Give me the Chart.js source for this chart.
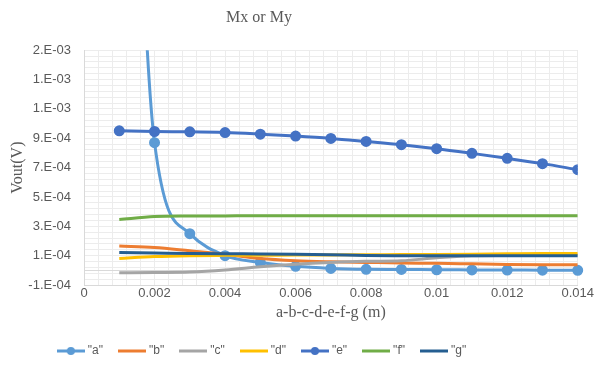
<!DOCTYPE html>
<html>
<head>
<meta charset="utf-8">
<script src="https://cdn.jsdelivr.net/npm/chart.js@4/dist/chart.umd.min.js"></script>
<style>
  html, body { margin: 0; padding: 0; background: #fff; }
</style>
</head>
<body>
<canvas id="c" width="595" height="365"></canvas>
<script>
// ── data ──
const xs = [0.001, 0.002, 0.003, 0.004, 0.005, 0.006, 0.007, 0.008, 0.009, 0.010, 0.011, 0.012, 0.013, 0.014];
const seriesA = [6.0e-3, 8.7e-4, 2.5e-4, 1.0e-4, 5.4e-5, 2.7e-5, 1.3e-5, 7e-6, 6e-6, 4e-6, 3e-6, 2e-6, 1e-6, 0];
const seriesB = [1.66e-4, 1.55e-4, 1.33e-4, 1.1e-4, 8.0e-5, 6.5e-5, 5.8e-5, 5.4e-5, 5.0e-5, 4.8e-5, 4.4e-5, 4.0e-5, 3.8e-5, 3.8e-5];
const seriesC = [-1.6e-5, -1.5e-5, -1.2e-5, 2e-6, 2.4e-5, 4.2e-5, 5.4e-5, 6.1e-5, 6.5e-5, 8.5e-5, 1.0e-4, 1.02e-4, 1.04e-4, 1.05e-4];
const seriesD = [8.1e-5, 9.4e-5, 1.0e-4, 1.02e-4, 1.03e-4, 1.04e-4, 1.05e-4, 1.06e-4, 1.07e-4, 1.08e-4, 1.1e-4, 1.13e-4, 1.15e-4, 1.15e-4];
const seriesE = [9.51e-4, 9.46e-4, 9.44e-4, 9.39e-4, 9.28e-4, 9.15e-4, 8.99e-4, 8.78e-4, 8.56e-4, 8.29e-4, 7.97e-4, 7.63e-4, 7.27e-4, 6.86e-4];
const seriesF = [3.47e-4, 3.66e-4, 3.70e-4, 3.71e-4, 3.72e-4, 3.72e-4, 3.72e-4, 3.72e-4, 3.72e-4, 3.72e-4, 3.72e-4, 3.72e-4, 3.72e-4, 3.72e-4];
const seriesG = [1.21e-4, 1.18e-4, 1.15e-4, 1.13e-4, 1.12e-4, 1.1e-4, 1.06e-4, 1.01e-4, 1.0e-4, 1.0e-4, 1.0e-4, 1.0e-4, 1.0e-4, 1.0e-4];
const seriesNames = ['"a"', '"b"', '"c"', '"d"', '"e"', '"f"', '"g"'];
const xTickLabels = ['0', '0.002', '0.004', '0.006', '0.008', '0.01', '0.012', '0.014'];
const yTickLabels = ['-1.E-04', '1.E-04', '3.E-04', '5.E-04', '7.E-04', '9.E-04', '1.E-03', '1.E-03', '2.E-03'];

const COLORS = ['#5B9BD5', '#ED7D31', '#A5A5A5', '#FFC000', '#4472C4', '#70AD47', '#255E91'];
const TEXT = '#595959';
const GRID = '#d9d9d9';
const MINOR = '#ececec';

// legend sample: line, with a dot for marker series
function legendIcon(color, marker) {
    const cv = document.createElement('canvas');
    cv.width = 28; cv.height = 10;
    const g = cv.getContext('2d');
    g.strokeStyle = color;
    g.lineWidth = 3;
    g.beginPath(); g.moveTo(0, 5); g.lineTo(28, 5); g.stroke();
    if (marker) {
        g.fillStyle = color;
        g.beginPath(); g.arc(14, 5, 4, 0, Math.PI * 2); g.fill();
    }
    return cv;
}

function series(i, values, marker) {
    return {
        label: seriesNames[i],
        data: xs.map((x, k) => ({ x, y: values[k] })),
        borderColor: COLORS[i],
        backgroundColor: COLORS[i],
        borderWidth: 3,
        pointRadius: marker ? 4 : 0,
        pointHoverRadius: marker ? 4 : 0,
        cubicInterpolationMode: 'monotone',
        order: -i,
        marker,
    };
}

const datasets = [
    series(0, seriesA, true),
    series(1, seriesB, false),
    series(2, seriesC, false),
    series(3, seriesD, false),
    series(4, seriesE, true),
    series(5, seriesF, false),
    series(6, seriesG, false),
];
datasets[0].clip = { left: 6, right: 6, top: 0, bottom: 6 };

// title and legend sit left of the page centre in the original
const shiftLeft = {
    id: 'shiftLeft',
    afterLayout(chart) {
        const moves = [[chart.titleBlock, 30], [chart.legend, 26]];
        for (const [box, dx] of moves) {
            if (!box) continue;
            box.left -= dx;
            box.right -= dx;
        }
    }
};

new Chart(document.getElementById('c'), {
    type: 'line',
    data: { datasets },
    plugins: [shiftLeft],
    options: {
        responsive: false,
        animation: false,
        layout: { padding: { left: 0, right: 17, top: 0, bottom: -2 } },
        plugins: {
            tooltip: { enabled: false },
            title: {
                display: true,
                text: 'Mx or My',
                color: TEXT,
                font: { family: 'Liberation Serif', size: 16, weight: 'normal' },
                padding: { top: 8, bottom: 23 }
            },
            legend: {
                position: 'bottom',
                labels: {
                    usePointStyle: true,
                    pointStyleWidth: 22,
                    padding: 18,
                    color: TEXT,
                    font: { family: 'Liberation Sans', size: 12 },
                    generateLabels: chart => chart.data.datasets.map((ds, i) => ({
                        text: ds.label,
                        pointStyle: legendIcon(ds.borderColor, ds.marker),
                        fillStyle: ds.borderColor,
                        strokeStyle: ds.borderColor,
                        lineWidth: 0,
                        fontColor: TEXT,
                        hidden: false,
                        datasetIndex: i
                    }))
                }
            }
        },
        scales: {
            x: {
                type: 'linear',
                min: 0,
                max: 0.014,
                afterFit: s => { s.height = 42; },
                ticks: {
                    stepSize: 0.002,
                    padding: 1,
                    color: TEXT,
                    font: { family: 'Liberation Sans', size: 13 },
                    callback: (v, i) => xTickLabels[i]
                },
                grid: { color: GRID, drawTicks: false },
                border: { color: GRID },
                title: {
                    display: true,
                    text: 'a-b-c-d-e-f-g (m)',
                    color: TEXT,
                    font: { family: 'Liberation Serif', size: 16 },
                    padding: { top: 0, bottom: 5 }
                }
            },
            y: {
                min: -1e-4,
                max: 1.5e-3,
                afterFit: s => { s.width = 84; },
                ticks: {
                    stepSize: 2e-4,
                    padding: 13,
                    color: TEXT,
                    font: { family: 'Liberation Sans', size: 13 },
                    callback: (v, i) => yTickLabels[i]
                },
                grid: { color: GRID, drawTicks: false },
                border: { color: GRID },
                title: {
                    display: true,
                    text: 'Vout(V)',
                    color: TEXT,
                    font: { family: 'Liberation Serif', size: 16 },
                    padding: { top: 8, bottom: 0 }
                }
            },
            // minor grid
            x2: {
                type: 'linear',
                position: 'bottom',
                min: 0,
                max: 0.014,
                z: -1,
                ticks: { stepSize: 0.0004, display: false },
                grid: { color: MINOR, drawTicks: false },
                border: { display: false }
            },
            y2: {
                type: 'linear',
                position: 'left',
                min: -1e-4,
                max: 1.5e-3,
                z: -1,
                afterBuildTicks: s => { s.ticks.push({ value: 0 }); },
                ticks: { stepSize: 4e-5, display: false },
                grid: {
                    color: c => (c.tick && c.tick.value === 0) ? GRID : MINOR,
                    drawTicks: false
                },
                border: { display: false }
            }
        }
    }
});
</script>
</body>
</html>
